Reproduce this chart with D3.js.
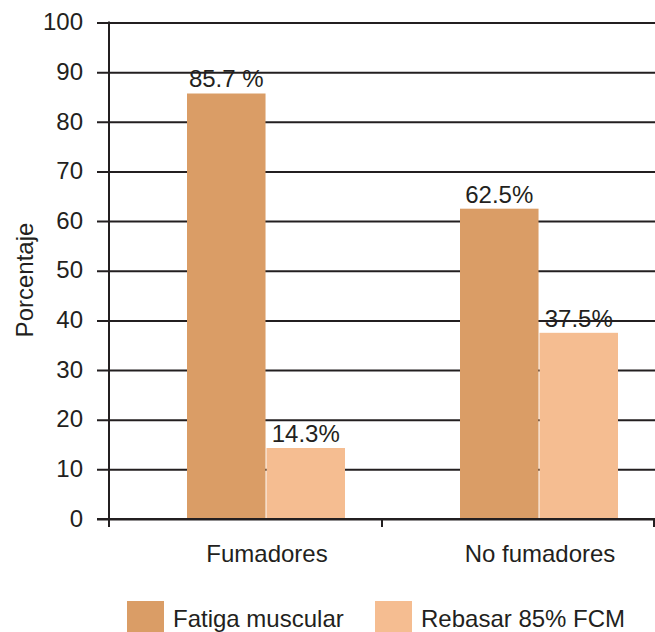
<!DOCTYPE html>
<html>
<head>
<meta charset="utf-8">
<script src="https://cdn.jsdelivr.net/npm/d3@7"></script>
<style>
  html, body { margin: 0; padding: 0; background: #fff; }
  svg { display: block; }
  text { font-family: "Liberation Sans", Arial, Helvetica, sans-serif; fill: #231f20; }
</style>
</head>
<body>
<svg id="chart" width="655" height="632"></svg>
<script>
// Groups on the x axis
const categories = ["Fumadores", "No fumadores"];
// Series names (legend order)
const seriesNames = ["Fatiga muscular", "Rebasar 85% FCM"];
// Percentages per series, one value per group
const fatigaMuscular = [85.7, 62.5];
const rebasarFCM = [14.3, 37.5];
// Text printed above each bar
const fatigaLabels = ["85.7 %", "62.5%"];
const rebasarLabels = ["14.3%", "37.5%"];
// Y axis ticks
const yTicks = [0, 10, 20, 30, 40, 50, 60, 70, 80, 90, 100];

const colors = { "Fatiga muscular": "#da9d66", "Rebasar 85% FCM": "#f5bd91" };
const ink = "#231f20";
const fontSize = 24;

const svg = d3.select("#chart");

const x = d3.scaleBand().domain(categories).range([109, 655]);
const inner = d3.scaleBand().domain(seriesNames).range([78, 236]).paddingInner(0.012);
const y = d3.scaleLinear().domain([0, 100]).range([519, 22.5]);

const rows = categories.map((c, i) => ({
  category: c,
  bars: [
    { series: seriesNames[0], value: fatigaMuscular[i], label: fatigaLabels[i] },
    { series: seriesNames[1], value: rebasarFCM[i], label: rebasarLabels[i] }
  ]
}));

// Horizontal grid lines with the left tick stubs
const yAxis = d3.axisLeft(y).tickValues(yTicks).tickSize(-(655 - 109)).tickSizeOuter(0).tickPadding(26);
const gy = svg.append("g").attr("transform", "translate(109,0)").call(yAxis);
gy.select(".domain").remove();
gy.selectAll(".tick line").attr("x1", -12).attr("stroke", ink).attr("stroke-width", 2);
gy.selectAll(".tick text")
  .attr("font-size", fontSize)
  .attr("fill", ink)
  .attr("dy", "0.3em")
  .style("font-family", "'Liberation Sans', Arial, sans-serif");

// Bars
const groups = svg.append("g").selectAll("g").data(rows).join("g")
  .attr("transform", d => `translate(${x(d.category)},0)`);

groups.selectAll("rect").data(d => d.bars).join("rect")
  .attr("x", d => inner(d.series))
  .attr("width", inner.bandwidth())
  .attr("y", d => y(d.value))
  .attr("height", d => y(0) - y(d.value))
  .attr("fill", d => colors[d.series]);

groups.selectAll("text.value").data(d => d.bars).join("text")
  .attr("class", "value")
  .attr("x", d => inner(d.series) + inner.bandwidth() / 2)
  .attr("y", d => y(d.value) - 6)
  .attr("text-anchor", "middle")
  .attr("font-size", fontSize)
  .text(d => d.label);

// Vertical axis line
svg.append("line")
  .attr("x1", 109).attr("x2", 109)
  .attr("y1", y(100) - 1).attr("y2", y(0) + 1)
  .attr("stroke", ink).attr("stroke-width", 2);

// Bottom axis with tick marks at group boundaries
svg.append("line")
  .attr("x1", 97).attr("x2", 655)
  .attr("y1", y(0)).attr("y2", y(0))
  .attr("stroke", ink).attr("stroke-width", 2.2);

const boundaries = categories.map(c => x(c)).concat([x.range()[1] - 1]);
svg.append("g").selectAll("line").data(boundaries).join("line")
  .attr("x1", d => d).attr("x2", d => d)
  .attr("y1", y(0)).attr("y2", y(0) + 8)
  .attr("stroke", ink).attr("stroke-width", 2);

svg.append("g").selectAll("text").data(categories).join("text")
  .attr("x", d => x(d) + (inner.range()[0] + inner.range()[1]) / 2 + 1)
  .attr("y", 562)
  .attr("text-anchor", "middle")
  .attr("font-size", fontSize)
  .text(d => d);

// Y axis title
svg.append("text")
  .attr("transform", "translate(33,280) rotate(-90)")
  .attr("text-anchor", "middle")
  .attr("font-size", fontSize)
  .text("Porcentaje");

// Legend
const legendX = [127, 375];
const legend = svg.append("g").selectAll("g").data(seriesNames).join("g")
  .attr("transform", (d, i) => `translate(${legendX[i]},601)`);
legend.append("rect")
  .attr("width", 37).attr("height", 34)
  .attr("fill", d => colors[d]);
legend.append("text")
  .attr("x", 46).attr("y", 25.5)
  .attr("font-size", fontSize)
  .text(d => d);
</script>
</body>
</html>
